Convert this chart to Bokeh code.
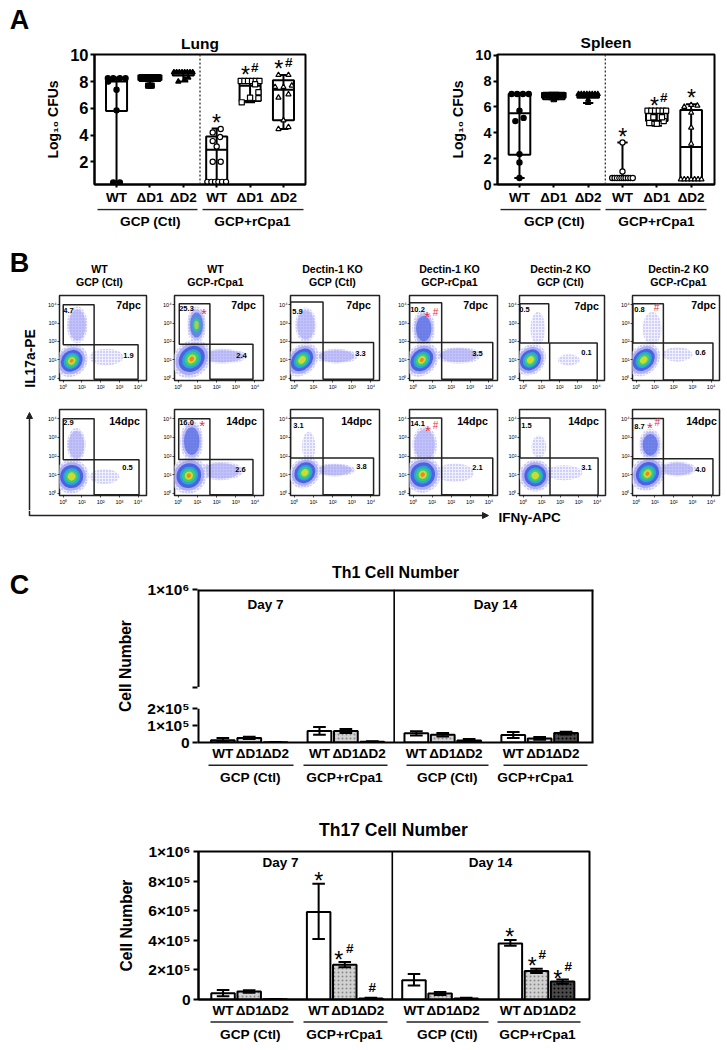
from bokeh.plotting import figure
from bokeh.layouts import column, row
from bokeh.models import Range1d, FixedTicker, Label, Span, Arrow, NormalHead
from bokeh.core.properties import value
from bokeh.embed import file_html
from bokeh.resources import INLINE
import math

FONT = "Liberation Sans"

# ---------- panel A data ----------
a_cats = ["WT", "ΔD1", "ΔD2", "WT", "ΔD1", "ΔD2"]
a_group = ["GCP (Ctl)", "GCP+rCpa1"]
a_markers = ["circle", "square", "triangle", "circle", "square", "triangle"]
a_fills = ["black", "black", "black", "white", "white", "white"]

lung_q1 = [5.8, 8.05, 8.45, 0.5, 6.55, 5.1]
lung_med = [8.0, 8.3, 8.6, 2.9, 7.7, 7.4]
lung_q3 = [8.25, 8.5, 8.75, 3.9, 8.15, 8.1]
lung_lo = [0.45, 7.65, 8.0, 0.4, 6.45, 4.45]
lung_hi = [8.3, 8.5, 8.75, 4.5, 8.15, 8.5]
lung_dx = [
    [-.26, -.10, .10, .27, -.25, 0, 0, -.1, .1],
    [-.28, -.2, -.12, -.04, .04, .12, .2, .28, -.05, .05, 0],
    [-.28, -.2, -.12, -.04, .04, .12, .2, .28, -.15, .15, .05],
    [-.28, -.16, -.05, .05, .16, .28, -.12, .12, 0, -.12, .1, -.12, .12],
    [-.28, -.17, -.06, .06, .17, .28, -.25, 0, .25, .25, .15],
    [-.15, .15, -.25, .25, 0, -.15, .15, 0, .15, -.15],
]
lung_dy = [
    [8.25, 8.25, 8.25, 8.25, 8.0, 7.4, 5.85, .45, .45],
    [8.3, 8.3, 8.3, 8.3, 8.3, 8.3, 8.3, 8.3, 7.7, 7.7, 7.7],
    [8.7, 8.7, 8.7, 8.7, 8.7, 8.7, 8.7, 8.7, 8.0, 8.3, 8.15],
    [.5, .5, .5, .5, .5, .5, 2.0, 2.0, 3.15, 3.55, 3.85, 4.2, 4.45],
    [8.05, 8.05, 8.05, 8.05, 8.05, 8.05, 6.45, 6.8, 6.75, 7.2, 7.8],
    [8.5, 8.5, 7.6, 7.7, 7.6, 6.8, 7.05, 5.1, 4.6, 4.45],
]

spleen_q1 = [2.3, 6.6, 6.7, 0.4, 4.9, 0.4]
spleen_med = [5.5, 6.9, 6.8, 0.5, 5.5, 2.9]
spleen_q3 = [7.0, 7.1, 7.0, 0.6, 5.7, 5.75]
spleen_lo = [0.5, 6.6, 6.3, 0.4, 4.55, 0.4]
spleen_hi = [7.0, 7.1, 7.0, 3.25, 5.7, 6.2]
spleen_dx = [
    [-.23, -.07, .1, .27, 0, -.12, .12, 0, 0, 0],
    [-.28, -.2, -.12, -.04, .04, .12, .2, .28, 0],
    [-.28, -.2, -.12, -.04, .04, .12, .2, .28, 0, 0],
    [-.3, -.23, -.16, -.09, -.03, .03, .09, .16, .23, .3, 0, 0],
    [-.27, -.16, -.05, .06, .17, .27, -.22, 0, .2, -.1, .15],
    [-.3, -.2, -.1, 0, .1, .2, .3, -.2, 0, .18, 0, 0, 0],
]
spleen_dy = [
    [7, 7, 7, 7, 5.7, 4.9, 5.15, 2.35, 1.7, .5],
    [6.9, 6.9, 6.9, 6.9, 6.9, 6.9, 6.9, 6.9, 6.6],
    [7, 7, 7, 7, 7, 7, 7, 7, 6.55, 6.3],
    [.5, .5, .5, .5, .5, .5, .5, .5, .5, .5, 1.0, 3.25],
    [5.7, 5.7, 5.7, 5.7, 5.7, 5.7, 4.75, 4.7, 4.9, 5.2, 5.2],
    [.4, .4, .4, .4, .4, .4, .4, 6.0, 6.15, 6.1, 5.55, 4.4, 3.15],
]

# ---------- panel B data (log10 units) ----------
b_top_titles = [("WT", "GCP (Ctl)"), ("WT", "GCP-rCpa1"), ("Dectin-1 KO", "GCP (Ctl)"),
                ("Dectin-1 KO", "GCP-rCpa1"), ("Dectin-2 KO", "GCP (Ctl)"), ("Dectin-2 KO", "GCP-rCpa1")]
b_ul_pct = [["4.7", "25.3", "5.9", "10.2", "0.5", "0.8"], ["2.9", "16.0", "3.1", "14.1", "1.5", "8.7"]]
b_lr_pct = [["1.9", "2.4", "3.3", "3.5", "0.1", "0.6"], ["0.5", "2.6", "3.8", "2.1", "3.1", "4.0"]]
b_day = ["7dpc", "14dpc"]
b_ul_gate = [
    [(0, 1.65, 1.82, 4.0), (.05, 1.65, 1.85, 4.05), (-.2, 1.5, 1.95, 4.15), (-.2, 1.5, 1.95, 4.1), (-.18, 1.4, 1.92, 4.05), (-.18, 1.45, 1.92, 4.05)],
    [(0, 1.65, 1.8, 4.0), (.02, 1.65, 1.82, 4.0), (-.2, 1.5, 1.9, 4.05), (-.2, 1.5, 1.9, 4.05), (-.18, 1.45, 1.9, 4.05), (-.2, 1.45, 1.85, 4.02)],
]
b_lr_gate = [
    [(1.65, 4.0, -.05, 1.82), (1.65, 3.9, -.05, 1.85), (1.5, 4.14, -.05, 1.95), (1.5, 4.2, -.05, 1.95), (1.45, 4.05, -.09, 1.92), (1.45, 4.1, -.09, 1.92)],
    [(1.65, 4.05, -.08, 1.8), (1.65, 3.9, -.08, 1.82), (1.5, 4.14, -.08, 1.9), (1.5, 4.2, -.08, 1.9), (1.45, 4.05, -.1, 1.9), (1.45, 4.1, -.1, 1.85)],
]
# population: centre x, centre y, half-width x, half-width y, peak density level
b_main = [
    [(.45, .95, .8, .9, 4), (.7, 1.05, .95, 1.05, 4), (.4, 1.0, .85, .85, 3), (.45, 1.0, .85, .9, 4), (.4, 1.0, .8, .85, 3), (.4, 1.0, .85, .85, 3)],
    [(.45, .9, .8, 1.0, 3), (.55, .95, .85, 1.05, 4), (.55, 1.1, .75, .85, 3), (.5, 1.0, .85, 1.05, 4), (.65, .95, .75, .95, 3), (.6, 1.05, .85, .95, 4)],
]
b_up = [
    [(.75, 2.9, .55, 1.0, 1), (.95, 2.9, .5, 1.0, 3), (.6, 2.9, .55, .95, 1), (.55, 2.7, .6, 1.0, 2), (.8, 2.7, .4, .9, 0), (.85, 2.7, .5, .9, 0)],
    [(.7, 2.6, .5, .9, 1), (.7, 2.8, .6, 1.1, 2), (.75, 2.5, .35, .8, 0), (.6, 2.6, .65, 1.0, 1), (.85, 2.5, .4, .6, 0), (.75, 2.6, .6, .85, 2)],
]
b_right = [
    [(2.3, 1.15, .9, .45, 0), (2.3, 1.2, 1.3, .4, 1), (2.2, 1.2, 1.1, .4, 1), (2.4, 1.25, 1.2, .45, 1), (2.5, 1.0, .6, .3, 0), (2.2, 1.3, .8, .4, 0)],
    [(2.2, .9, .8, .4, 0), (2.2, 1.2, 1.2, .5, 1), (2.1, 1.25, 1.1, .35, 1), (2.2, 1.1, 1.0, .5, 0), (2.2, 1.1, 1.0, .4, 0), (2.2, 1.3, 1.0, .4, 1)],
]

# ---------- panel C data ----------
c_labels = ["WT", "ΔD1", "ΔD2"] * 4
c_fill = ["white", "#d2d2d2", "#4a4a4a"] * 4
th1_val = [.14e5, .26e5, .01e5, .68e5, .68e5, .04e5, .54e5, .46e5, .12e5, .44e5, .24e5, .56e5]
th1_hi = [.26e5, .34e5, .02e5, .92e5, .80e5, .07e5, .66e5, .56e5, .20e5, .62e5, .32e5, .64e5]
th1_lo = [.06e5, .20e5, .01e5, .46e5, .56e5, .03e5, .42e5, .36e5, .06e5, .26e5, .16e5, .48e5]
th17_val = [.43e5, .54e5, .02e5, 5.91e5, 2.34e5, .07e5, 1.3e5, .4e5, .06e5, 3.78e5, 1.93e5, 1.21e5]
th17_hi = [.65e5, .63e5, .03e5, 7.82e5, 2.54e5, .11e5, 1.73e5, .5e5, .12e5, 4.02e5, 2.07e5, 1.35e5]
th17_lo = [.22e5, .45e5, .01e5, 4.09e5, 2.18e5, .03e5, .94e5, .3e5, .02e5, 3.64e5, 1.79e5, 1.07e5]
th1_pos = [0, 1, 2, 3.66, 4.66, 5.66, 7.33, 8.33, 9.33, 11, 12, 13]
th17_pos = [0, 1, 2, 3.66, 4.66, 5.66, 7.31, 8.31, 9.31, 11, 12, 13]


class Pane:
    """A figure placed by page pixels; in-frame labels are given in page pixels."""
    def __init__(self, area, frame, xr, yr):
        self.a, self.f, self.xr, self.yr = area, frame, xr, yr
        x0, y0, x1, y1 = area
        L, T, R, B = frame
        self.p = figure(width=x1 - x0, height=y1 - y0, x_range=Range1d(*xr), y_range=Range1d(*yr),
                        min_border_left=L - x0, min_border_right=x1 - R, min_border_top=T - y0,
                        min_border_bottom=y1 - B, toolbar_location=None, output_backend="svg")
        self.p.grid.visible = False
        self.p.outline_line_color = "black"

    def title(self, s, size, standoff):
        t = self.p.title
        t.text = s
        t.align = "center"
        t.text_font = FONT
        t.text_font_style = "bold"
        t.text_font_size = f"{size}px"
        t.text_color = "black"
        t.standoff = standoff

    def text(self, px, py, s, size=12, bold=True, color="black", align="center", angle=0):
        self.p.add_layout(Label(x=px - self.a[0], y=py - self.a[1], x_units="canvas", y_units="canvas", text=s,
                                text_font=FONT, text_font_size=f"{size}px",
                                text_font_style="bold" if bold else "normal",
                                text_color=color, text_align=align, text_baseline="middle", angle=angle))

    def star(self, px, py, color="black", size=23):
        self.text(px, py + size * 0.24, "*", size=size, bold=False, color=color)


class Band:
    """A bare strip of the page for letters, group rules and side labels."""
    def __init__(self, area):
        x0, y0, x1, y1 = area
        self.p = figure(width=x1 - x0, height=y1 - y0, x_range=Range1d(x0, x1), y_range=Range1d(y1, y0),
                        min_border_left=0, min_border_right=0, min_border_top=0, min_border_bottom=0,
                        x_axis_location=None, y_axis_location=None, toolbar_location=None, output_backend="svg")
        self.p.grid.visible = False
        self.p.outline_line_color = None

    def text(self, x, y, s, size=12, bold=True, align="center", angle=0):
        self.p.text([x], [y], text=[s], text_font=value(FONT), text_font_size=value(f"{size}px"),
                    text_font_style="bold" if bold else "normal", text_color="black", text_align=align,
                    text_baseline="middle", angle=angle)

    def rule(self, x0, x1, y, width=1.6):
        self.p.segment([x0], [y], [x1], [y], line_color="#222222", line_width=width)


def style_axes(p, size, tick_out=4, lw=2):
    for ax in (p.xaxis[0], p.yaxis[0]):
        ax.major_label_text_font = FONT
        ax.major_label_text_font_style = "bold"
        ax.major_label_text_font_size = f"{size}px"
        ax.major_label_text_color = "black"
        ax.axis_line_width = lw
        ax.axis_line_color = "black"
        ax.major_tick_line_width = lw
        ax.major_tick_line_color = "black"
        ax.major_tick_out = tick_out
        ax.major_tick_in = 0
        ax.minor_tick_line_color = None


def box_panel(area, frame, xr, yr, yticks, q1, med, q3, lo, hi, dx, dy, ylabel_stand, tick_size):
    P = Pane(area, frame, xr, yr)
    p = P.p
    p.outline_line_width = 2
    style_axes(p, tick_size, 4, 2)
    p.xaxis[0].ticker = FixedTicker(ticks=[1, 2, 3, 4, 5, 6])
    p.xaxis[0].major_label_overrides = {i + 1: c for i, c in enumerate(a_cats)}
    p.xaxis[0].major_label_text_font_size = "13.5px"
    p.xaxis[0].major_label_standoff = 2
    p.xaxis[0].major_tick_out = 3
    p.yaxis[0].ticker = FixedTicker(ticks=yticks)
    p.yaxis[0].major_label_standoff = 2
    p.yaxis[0].axis_label = "Log₁₀ CFUs"
    p.yaxis[0].axis_label_text_font = FONT
    p.yaxis[0].axis_label_text_font_style = "bold"
    p.yaxis[0].axis_label_text_font_size = "14px"
    p.yaxis[0].axis_label_text_color = "black"
    p.yaxis[0].axis_label_standoff = ylabel_stand
    xs = [1, 2, 3, 4, 5, 6]
    p.add_layout(Span(location=3.5, dimension="height", line_color="#333333", line_dash="2 2", line_width=1.3))
    p.segment(xs, lo, xs, hi, line_color="black", line_width=2)
    p.segment([x - .15 for x in xs], lo, [x + .15 for x in xs], lo, line_color="black", line_width=2)
    p.segment([x - .15 for x in xs], hi, [x + .15 for x in xs], hi, line_color="black", line_width=2)
    p.vbar(xs, 0.63, q3, q1, fill_color=None, line_color="black", line_width=2)
    p.segment([x - .32 for x in xs], med, [x + .32 for x in xs], med, line_color="black", line_width=2)
    for i, x in enumerate(xs):
        p.scatter([x + d for d in dx[i]], dy[i], marker=a_markers[i], size=5.2,
                  fill_color=a_fills[i], line_color="black", line_width=1.2)
    return P


# ---------- A ----------
side_a = Band((0, 0, 40, 208))
side_a.text(19, 19, "A", size=27)

lung = box_panel((40, 0, 400, 208), (94, 53, 305, 184), (.34, 6.66), (.3, 10.03), [2, 4, 6, 8, 10],
                 lung_q1, lung_med, lung_q3, lung_lo, lung_hi, lung_dx, lung_dy, 6, 16.5)
lung.title("Lung", 15.5, 6)
lung.star(216, 117.3)
lung.star(245, 69.3); lung.text(254.3, 67.3, "#", size=13.5)
lung.star(278.3, 63.3); lung.text(288.3, 61.7, "#", size=13.5)

spleen = box_panel((400, 0, 727, 208), (497, 54, 714, 184), (.36, 6.68), (0, 10.05), [0, 2, 4, 6, 8, 10],
                   spleen_q1, spleen_med, spleen_q3, spleen_lo, spleen_hi, spleen_dx, spleen_dy, 6, 14.5)
spleen.title("Spleen", 15.5, 8)
spleen.star(622.3, 131)
spleen.star(654, 100); spleen.text(663.3, 97.3, "#", size=13.5)
spleen.star(691, 91.7)

bot_a = Band((0, 208, 727, 232))
for x0, x1 in [(97, 197), (202, 303), (500, 600), (605, 706)]:
    bot_a.rule(x0, x1, 209)
for x, g in zip([150, 252, 554, 656], a_group * 2):
    bot_a.text(x, 221, g, size=13.7)

# ---------- B ----------
top_b = Band((0, 232, 727, 290))
top_b.text(19, 262, "B", size=27)
b_head_x = [99, 215, 332, 449, 560, 678]
for x, (t1, t2) in zip(b_head_x, b_top_titles):
    top_b.text(x, 268, t1, size=10.6)
    top_b.text(x, 281, t2, size=10.6)

side_b = Band((0, 290, 45, 510))
side_b.text(30, 358, "IL17a-PE", size=13.8, angle=math.pi / 2)
side_b.p.add_layout(Arrow(end=NormalHead(size=6, fill_color="#222222", line_color="#222222"),
                          x_start=29, y_start=510, x_end=29, y_end=412,
                          line_color="#222222", line_width=1.5))

LEVELS = [(1.0, "#e6e6fc", 0), (.84, "#a4a4f6", 1), (.68, "#3a56de", 2), (.5, "#24b4cc", 3),
          (.37, "#3fd06c", 3), (.23, "#e4de28", 3), (.12, "#ee7a20", 4)]


def population(p, pop, main=False):
    cx, cy, rx, ry, lev = pop
    w, h, ang = (2.3 * rx, 1.8 * ry, .8) if main else (2 * rx, 2 * ry, 0)
    alpha = .85 if main else .6
    for frac, col, need in LEVELS:
        if lev >= need:
            kw = dict(hatch_pattern="dot", hatch_color="#7f7fee", hatch_scale=3, hatch_alpha=.7) if frac == 1.0 else {}
            p.ellipse(cx, cy, width=w * frac, height=h * frac, angle=ang,
                      fill_color=col, fill_alpha=alpha, line_color=None, **kw)


b_areas = [[(45, 290, 160, 400), (160, 290, 276, 400), (276, 290, 395, 400), (395, 290, 505, 400), (505, 290, 618, 400), (618, 290, 727, 400)],
           [(45, 400, 160, 510), (160, 400, 276, 510), (276, 400, 395, 510), (395, 400, 505, 510), (505, 400, 618, 510), (618, 400, 727, 510)]]
b_frames = [[(57, 295, 146, 383), (173, 295, 263, 383), (289, 295, 379, 383), (407, 294, 497, 383), (517, 294, 604, 380), (631, 294, 719, 380)],
            [(57, 407, 146, 495), (173, 406, 263, 495), (289, 406, 379, 495), (407, 406, 497, 495), (517, 409, 605, 496), (631, 409, 719, 495)]]
b_ul_xy = [[(68, 310), (186, 308), (297, 311), (417, 309), (524, 309), (639, 309)],
           [(68, 422), (186, 422), (298, 425), (417, 423), (526, 425), (639, 426)]]
b_lr_xy = [[(128, 355), (241, 355), (360, 353), (477, 353), (586, 352), (700, 352)],
           [(127, 467), (240, 469), (361, 466), (477, 467), (586, 467), (700, 469)]]
b_day_xy = [[(128, 304), (243, 304), (358, 304), (475, 304), (586, 305), (703, 304)],
            [(124, 420), (241, 420), (356, 420), (472, 420), (583, 420), (701, 420)]]
b_marks = {(0, 1): [("*", 203.3, 309.3)], (0, 3): [("*", 426.7, 312.7), ("#", 435, 311.7)], (0, 5): [("#", 656, 306.7)],
           (1, 1): [("*", 201.7, 421.7)], (1, 3): [("*", 427.3, 426), ("#", 435, 425)],
           (1, 5): [("*", 649.3, 423.3), ("#", 656.7, 422.3)]}
tick_text = {0: "10⁰", 1: "10¹", 2: "10²", 3: "10³", 4: "10⁴"}

b_rows = []
for r in range(2):
    figs = []
    for c in range(6):
        P = Pane(b_areas[r][c], b_frames[r][c], (-.2, 4.45), (-.12, 4.5))
        p = P.p
        p.outline_line_width = 1.5
        p.outline_line_color = "#222222"
        style_axes(p, 5.5, 2, .7)
        for ax in (p.xaxis[0], p.yaxis[0]):
            ax.ticker = FixedTicker(ticks=[0, 1, 2, 3, 4])
            ax.major_label_overrides = tick_text
            ax.major_label_standoff = 1
            ax.major_label_text_font_style = "normal"
            ax.axis_line_color = None
        population(p, b_right[r][c])
        population(p, b_up[r][c])
        population(p, b_main[r][c], main=True)
        for g in (b_ul_gate[r][c], b_lr_gate[r][c]):
            p.quad(left=g[0], right=g[1], bottom=g[2], top=g[3], fill_color=None, line_color="#222222", line_width=1.5)
        P.text(*b_ul_xy[r][c], b_ul_pct[r][c], size=7.5)
        P.text(*b_lr_xy[r][c], b_lr_pct[r][c], size=7.5)
        P.text(*b_day_xy[r][c], b_day[r], size=10.6)
        for kind, x, y in b_marks.get((r, c), []):
            if kind == "*":
                P.star(x, y, color="#e8303a", size=15)
            else:
                P.text(x, y, "#", size=10, bold=False, color="#e8303a")
        figs.append(p)
    b_rows.append(row(*figs, spacing=0))

strip = Band((0, 510, 727, 528))
strip.p.segment([29], [510], [29], [515.5], line_color="#222222", line_width=1.5)
strip.p.add_layout(Arrow(end=NormalHead(size=6, fill_color="#222222", line_color="#222222"),
                         x_start=29, y_start=515, x_end=488, y_end=515, line_color="#222222", line_width=1.5))
strip.text(498, 517, "IFNγ-APC", size=13.5, align="left")


# ---------- C ----------
def bars(area, frame, xr, yr, yticks, yover, pos, val, hi, lo, split):
    P = Pane(area, frame, xr, yr)
    p = P.p
    p.outline_line_width = 2
    style_axes(p, 15.5, 5, 2)
    p.xaxis[0].ticker = FixedTicker(ticks=pos)
    p.xaxis[0].major_label_overrides = dict(zip(pos, c_labels))
    p.xaxis[0].major_tick_line_color = None
    p.xaxis[0].major_tick_out = 0
    p.xaxis[0].major_label_standoff = 3
    p.xaxis[0].major_label_text_font_size = "13.5px"
    p.yaxis[0].ticker = FixedTicker(ticks=yticks)
    p.yaxis[0].major_label_overrides = yover
    p.yaxis[0].major_label_standoff = 3
    p.yaxis[0].axis_label = "Cell Number"
    p.yaxis[0].axis_label_text_font = FONT
    p.yaxis[0].axis_label_text_font_style = "bold"
    p.yaxis[0].axis_label_text_font_size = "15.6px"
    p.yaxis[0].axis_label_text_color = "black"
    p.yaxis[0].axis_label_standoff = 10
    p.add_layout(Span(location=split, dimension="height", line_color="black", line_width=1.6))
    lows = [max(l, 0) for l in lo]
    p.segment([x - .24 for x in pos], hi, [x + .24 for x in pos], hi, line_color="black", line_width=2)
    p.vbar(pos, .9, val, 0, fill_color=c_fill, line_color="black", line_width=2,
           hatch_pattern=[" ", "dot", "dot"] * 4, hatch_color=["white", "#8a8a8a", "#000000"] * 4,
           hatch_scale=4, hatch_alpha=1)
    p.segment(pos, lows, pos, hi, line_color="black", line_width=2)
    p.segment([x - .24 for x in pos], lows, [x + .24 for x in pos], lows, line_color="black", line_width=2)
    return P


GROUPS = ["GCP (Ctl)", "GCP+rCpa1", "GCP (Ctl)", "GCP+rCpa1"]

side_c = Band((0, 528, 100, 763))
side_c.text(19, 584, "C", size=27)

PX = 16.9 / 1e5            # Th1 lower axis: pixels per cell
BREAK_TOP = 152.6 / PX
BREAK_TICK = 55.5 / PX
th1_xr = (-.96, 14.04)
th1_yr = (0, 153 / PX)
th1 = bars((100, 528, 600, 763), (197, 589, 593, 742), th1_xr, th1_yr,
           [0, 1e5, 2e5, BREAK_TICK, BREAK_TOP],
           {0: "0", 100000: "1×10⁵", 200000: "2×10⁵", BREAK_TICK: " ", BREAK_TOP: "1×10⁶"},
           th1_pos, th1_val, th1_hi, th1_lo, 6.49)
th1.title("Th1 Cell Number", 16, 17)
th1.p.outline_line_color = None
th1.p.yaxis[0].axis_line_color = None
for x0, y0, x1, y1 in [(th1_xr[0], 0, th1_xr[0], 2e5), (th1_xr[0], BREAK_TICK, th1_xr[0], th1_yr[1]),
                       (th1_xr[0], th1_yr[1], th1_xr[1], th1_yr[1]), (th1_xr[1], 0, th1_xr[1], th1_yr[1])]:
    th1.p.segment([x0], [y0], [x1], [y1], line_color="black", line_width=4)
th1.text(265, 604, "Day 7", size=13.5)
th1.text(495, 604, "Day 14", size=13.5)

bot_c1 = Band((0, 763, 727, 790))
for (x0, x1), g, gx in zip([(208, 293), (303, 387), (406, 488), (503, 587)], GROUPS, [250, 344, 447, 535]):
    bot_c1.rule(x0, x1, 764.7)
    bot_c1.text(gx, 777, g, size=13.7)

top_c2 = Band((0, 790, 727, 842))
top_c2.text(393, 829, "Th17 Cell Number", size=17.5)

th17 = bars((0, 842, 592, 1020), (198, 851, 589, 999), (-.94, 14.03), (0, 1e6),
            [0, 2e5, 4e5, 6e5, 8e5, 1e6],
            {0: "0", 200000: "2×10⁵", 400000: "4×10⁵", 600000: "6×10⁵", 800000: "8×10⁵", 1000000: "1×10⁶"},
            th17_pos, th17_val, th17_hi, th17_lo, 6.48)
th17.text(280, 862, "Day 7", size=13.5)
th17.text(490, 862, "Day 14", size=13.5)
th17.star(318.3, 875)
th17.star(338.3, 954.3); th17.text(349.3, 947.7, "#", size=13.5)
th17.text(371.7, 986.7, "#", size=13.5)
th17.star(509.3, 931)
th17.star(531.7, 960); th17.text(541.7, 954.3, "#", size=13.5)
th17.star(557.3, 972.7); th17.text(567.7, 965.7, "#", size=13.5)

bot_c2 = Band((0, 1020, 727, 1046))
for (x0, x1), g, gx in zip([(210, 293), (303, 387), (406, 488), (497, 580)], GROUPS, [250, 344, 447, 537]):
    bot_c2.rule(x0, x1, 1021.5)
    bot_c2.text(gx, 1034, g, size=13.7)

root = column(row(column(side_a.p), lung.p, spleen.p, spacing=0), row(bot_a.p), row(top_b.p),
              row(column(side_b.p), column(b_rows[0], b_rows[1], spacing=0), spacing=0),
              row(strip.p), row(column(side_c.p), th1.p, spacing=0), row(bot_c1.p),
              row(top_c2.p), row(th17.p), row(bot_c2.p), spacing=0)
open("out.html", "w").write(file_html(root, INLINE))
